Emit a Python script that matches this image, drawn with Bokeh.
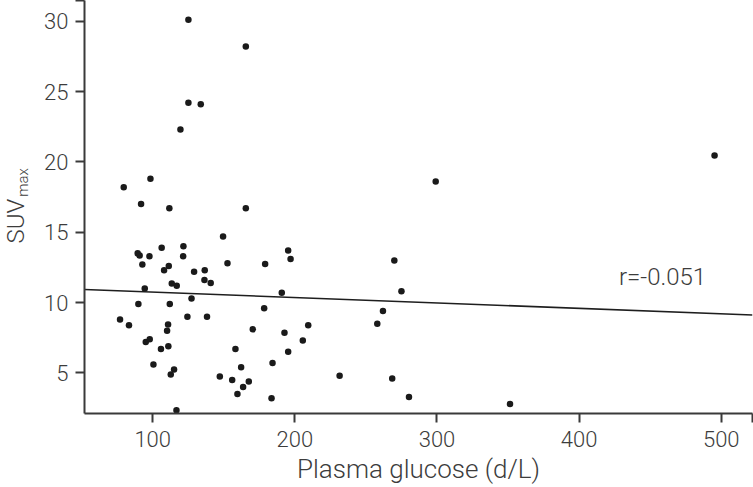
from bokeh.plotting import figure
from bokeh.models import Range1d, Label, FixedTicker, LinearAxis, Title
from bokeh.embed import file_html
from bokeh.resources import INLINE

# Data
glucose = [125.1, 165.5, 125.1, 133.8, 119.5, 79.6, 98.4, 91.8, 111.7, 165.5,
           149.5, 89.4, 90.8, 97.7, 106.3, 121.6, 121.4, 92.7, 108.0, 111.3,
           129.1, 136.6, 136.4, 140.8, 152.6, 113.4, 116.9, 94.4, 127.3, 89.9,
           112.0, 77.0, 83.3, 124.4, 138.2, 110.8, 110.1, 95.1, 97.9, 105.8,
           111.0, 100.5, 115.0, 112.7, 116.7, 158.2, 162.2, 147.2, 155.9, 159.6,
           163.6, 167.6, 179.1, 195.3, 197.0, 190.8, 178.4, 170.4, 192.7, 209.4,
           205.6, 195.3, 184.3, 183.6, 231.5, 270.0, 275.0, 262.0, 258.0, 268.5,
           280.3, 299.1, 351.4, 495.3]
suv = [30.1, 28.2, 24.2, 24.1, 22.3, 18.2, 18.8, 17.0, 16.7, 16.7,
       14.7, 13.5, 13.35, 13.3, 13.9, 14.0, 13.3, 12.7, 12.3, 12.6,
       12.2, 12.3, 11.6, 11.4, 12.8, 11.35, 11.2, 11.0, 10.3, 9.9,
       9.9, 8.8, 8.4, 9.0, 9.0, 8.45, 8.0, 7.2, 7.4, 6.7,
       6.9, 5.6, 5.25, 4.9, 2.35, 6.7, 5.4, 4.75, 4.5, 3.5,
       4.0, 4.4, 12.75, 13.7, 13.1, 10.7, 9.6, 8.1, 7.85, 8.4,
       7.3, 6.5, 5.7, 3.2, 4.8, 13.0, 10.8, 9.4, 8.5, 4.6,
       3.3, 18.6, 2.8, 20.45]
fit_x = [52, 522]
fit_y = [10.94, 9.12]
x_ticks = [100, 200, 300, 400, 500]
y_ticks = [5, 10, 15, 20, 25, 30]
x_label = "Plasma glucose (d/L)"
y_label_main = "SUV"
y_label_sub = "max"
r_text = "r=-0.051"
r_pos = (428.0, 11.85)

X0, X1 = 52, 522
Y0, Y1 = 2.12, 31.47
Y_SUB_C = 18.54    # centre of "max" along the y axis (data units)

FONT = "'Roboto Light', 'Liberation Sans', sans-serif"
TXT = "#3c3c3c"
AX = "#3a3a3a"

p = figure(width=753, height=487, output_backend="svg", toolbar_location=None,
           x_range=Range1d(X0, X1), y_range=Range1d(Y0, Y1),
           min_border_left=84, min_border_right=1, min_border_top=0,
           min_border_bottom=74)
p.outline_line_color = None
p.xgrid.visible = False
p.ygrid.visible = False

p.line(fit_x, fit_y, line_color="#1e1e1e", line_width=1.5)
p.scatter(glucose, suv, size=6.5, fill_color="#1a1a1a", line_color=None)

p.xaxis.ticker = FixedTicker(ticks=x_ticks + [X1])
p.yaxis.ticker = FixedTicker(ticks=y_ticks + [Y1])
p.xaxis.major_label_overrides = {X1: ""}
p.yaxis.major_label_overrides = {Y1: ""}

for ax in (p.xaxis[0], p.yaxis[0]):
    ax.axis_line_color = AX
    ax.axis_line_width = 2
    ax.major_tick_line_color = AX
    ax.major_tick_line_width = 2
    ax.major_tick_out = 9
    ax.major_tick_in = 0
    ax.minor_tick_line_color = None
    ax.major_label_text_font = FONT
    ax.major_label_text_font_size = "22px"
    ax.major_label_text_color = TXT
p.xaxis.major_label_standoff = 8
p.yaxis.major_label_standoff = 7

p.xaxis.axis_label = x_label
p.xaxis.axis_label_text_font = FONT
p.xaxis.axis_label_text_font_size = "26px"
p.xaxis.axis_label_text_font_style = "normal"
p.xaxis.axis_label_text_color = TXT
p.xaxis.axis_label_standoff = 4

# subscript "max" drawn as the single label of a bare axis
sub_axis = LinearAxis(ticker=FixedTicker(ticks=[Y_SUB_C]),
                      major_label_overrides={Y_SUB_C: y_label_sub})
sub_axis.axis_line_color = None
sub_axis.major_tick_line_color = None
sub_axis.minor_tick_line_color = None
sub_axis.major_tick_out = 0
sub_axis.major_tick_in = 0
sub_axis.major_label_orientation = "vertical"
sub_axis.major_label_text_font = FONT
sub_axis.major_label_text_font_size = "15px"
sub_axis.major_label_text_color = TXT
sub_axis.major_label_standoff = 9
p.add_layout(sub_axis, "left")

# main "SUV" as a side title
p.add_layout(Title(text=y_label_main, align="left", offset=170,
                   vertical_align="bottom", standoff=-36,
                   text_font=FONT, text_font_size="24px",
                   text_font_style="normal", text_color=TXT), "left")

p.add_layout(Label(x=r_pos[0], y=r_pos[1], text=r_text,
                   text_font=FONT, text_font_size="24px", text_color=TXT,
                   text_baseline="alphabetic", text_align="left"))

open("out.html", "w").write(file_html(p, INLINE))
